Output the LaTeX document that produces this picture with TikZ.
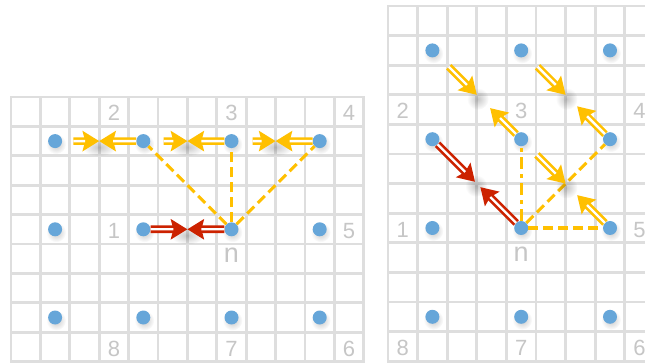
\documentclass[tikz,border=0pt]{standalone}
\usepackage{fontspec}
\setmainfont{Liberation Sans}
\usetikzlibrary{arrows.meta,calc,fadings}
\definecolor{ayellow}{RGB}{255,192,0}
\definecolor{ared}{RGB}{204,34,0}
\definecolor{adot}{RGB}{102,166,217}
\definecolor{agrid}{RGB}{222,222,222}
\definecolor{alabel}{RGB}{198,198,198}
\tikzfading[name=fuzz, inner color=transparent!0, outer color=transparent!100]
\begin{document}
\begin{tikzpicture}[x=1pt,y=-1pt,
 gridline/.style={draw=agrid, line width=2.8pt, line cap=rect},
 dot/.style={circle, fill=adot, minimum size=14pt, inner sep=0pt},
 lab/.style={text=alabel, font=\fontsize{22}{22}\selectfont, anchor=base, inner sep=0pt},
 nlab/.style={text=alabel, font=\fontsize{27}{27}\selectfont, anchor=base, inner sep=0pt},
 yarr/.style={draw=white, line width=2.4pt, shorten >=14pt,
   preaction={draw=ayellow, line width=7.6pt, shorten >=0pt,
     -{Stealth[length=16.5pt,width=20pt,inset=2.5pt]}}},
 rarr/.style={draw=white, line width=2.4pt, shorten >=14pt,
   preaction={draw=ared, line width=7.6pt, shorten >=0pt,
     -{Stealth[length=16.5pt,width=20pt,inset=2.5pt]}}},
 ydash/.style={draw=ayellow, line width=3.1pt, dash pattern=on 10pt off 5pt},
 ydashdot/.style={draw=ayellow, line width=3.1pt, dash pattern=on 12pt off 5pt on 4pt off 5pt},
 shad/.style={fill=black, fill opacity=0.22, path fading=fuzz},
]
\useasboundingbox (0,0) rectangle (645,363);
\clip (0,0) rectangle (645,363);
\fill[white] (0,0) rectangle (645,363);

% ---------- left grid ----------
\foreach \i in {0,...,12} \draw[gridline] ({11+29.4*\i},97) -- ({11+29.4*\i},361.6);
\foreach \j in {0,...,9} \draw[gridline] (11,{97+29.4*\j}) -- (363.8,{97+29.4*\j});
% ---------- right grid ----------
\foreach \i in {0,...,9} \draw[gridline] ({388+29.6*\i},6) -- ({388+29.6*\i},361.2);
\foreach \j in {0,...,12} \draw[gridline] (388,{6+29.6*\j}) -- (660,{6+29.6*\j});

% ---------- labels ----------
\node[lab] (lt2) at ({11+29.4*3.5},121) {2};
\node[lab] (lt3) at ({11+29.4*7.5},121) {3};
\node[lab] (lt4) at ({11+29.4*11.5},121) {4};
\node[lab] (lt1) at ({11+29.4*3.5},238.6) {1};
\node[lab] (lt5) at ({11+29.4*11.5},238.6) {5};
\node[nlab] (ltn) at ({11+29.4*7.5},262.5) {n};
\node[lab] (lt8) at ({11+29.4*3.5},356.2) {8};
\node[lab] (lt7) at ({11+29.4*7.5},356.2) {7};
\node[lab] (lt6) at ({11+29.4*11.5},356.2) {6};

\node[lab] (rt2) at ({388+29.6*0.5},118.8) {2};
\node[lab] (rt3) at ({388+29.6*4.5},118.8) {3};
\node[lab] (rt4) at ({388+29.6*8.5},118.8) {4};
\node[lab] (rt1) at ({388+29.6*0.5},237.2) {1};
\node[lab] (rt5) at ({388+29.6*8.5},237.2) {5};
\node[nlab] (rtn) at ({388+29.6*4.5},261.3) {n};
\node[lab] (rt8) at ({388+29.6*0.5},355.6) {8};
\node[lab] (rt7) at ({388+29.6*4.5},355.6) {7};
\node[lab] (rt6) at ({388+29.6*8.5},355.6) {6};

% ---------- dots ----------
\foreach \r in {2,5,8} \foreach \c in {2,5,8,11} {
  \fill[shad] ({11+29.4*(\c-0.5)+1},{97+29.4*(\r-0.5)+3}) circle (10);
  \node[dot] (L\r-\c) at ({11+29.4*(\c-0.5)},{97+29.4*(\r-0.5)}) {};
}
\foreach \r in {2,5,8,11} \foreach \c in {2,5,8} {
  \fill[shad] ({388+29.6*(\c-0.5)+1},{6+29.6*(\r-0.5)+3}) circle (10);
  \node[dot] (R\r-\c) at ({388+29.6*(\c-0.5)},{6+29.6*(\r-0.5)}) {};
}

% ---------- dashed links ----------
\draw[ydash] (L5-8) -- (L2-5);
\draw[ydash] (L5-8) -- (L2-8);
\draw[ydash] (L5-8) -- (L2-11);
\draw[ydashdot] (R8-5) -- (R5-5);
\draw[ydash] (R8-5) -- (R5-8);
\draw[ydash] (R8-5) -- (R8-8);

% ---------- arrow meeting points ----------
\coordinate (mA) at ($(L2-2)!0.5!(L2-5)$);
\coordinate (mB) at ($(L2-5)!0.5!(L2-8)$);
\coordinate (mC) at ($(L2-8)!0.5!(L2-11)$);
\coordinate (mD) at ($(L5-5)!0.5!(L5-8)$);
\coordinate (mE) at ($(R2-2)!0.5!(R5-5)$);
\coordinate (mF) at ($(R2-5)!0.5!(R5-8)$);
\coordinate (mG) at ($(R5-5)!0.5!(R8-8)$);
\coordinate (mH) at ($(R5-2)!0.48!(R8-5)$);
\coordinate (eE) at ($(R5-5)!0.35!(R2-2)$);
\coordinate (eF) at ($(R5-8)!0.37!(R2-5)$);
\coordinate (eG) at ($(R8-8)!0.37!(R5-5)$);
\coordinate (eH) at ($(R8-5)!0.46!(R5-2)$);

% ---------- arrow shadows ----------
\foreach \m in {mA,mB,mC,mD} \fill[shad] ($(\m)+(0,6)$) ellipse (17 and 9);
\foreach \m in {mE,mF,mG,mH} \fill[shad] ($(\m)+(1,4)$) circle (11);

% ---------- arrows ----------
\draw[yarr, shorten <=11pt] (L2-2) -- (mA);
\draw[yarr] (L2-5) -- (mA);
\draw[yarr, shorten <=13pt] (L2-5) -- (mB);
\draw[yarr] (L2-8) -- (mB);
\draw[yarr, shorten <=14pt] (L2-8) -- (mC);
\draw[yarr] (L2-11) -- (mC);
\draw[rarr] (L5-5) -- (mD);
\draw[rarr] (L5-8) -- (mD);

\draw[yarr, shorten <=16pt] (R2-2) -- (mE);
\draw[yarr] (R5-5) -- (eE);
\draw[yarr, shorten <=16pt] (R2-5) -- (mF);
\draw[yarr] (R5-8) -- (eF);
\draw[yarr, shorten <=15pt] (R5-5) -- (mG);
\draw[yarr] (R8-8) -- (eG);
\draw[rarr] (R5-2) -- (mH);
\draw[rarr] (R8-5) -- (eH);
\end{tikzpicture}
\end{document}
